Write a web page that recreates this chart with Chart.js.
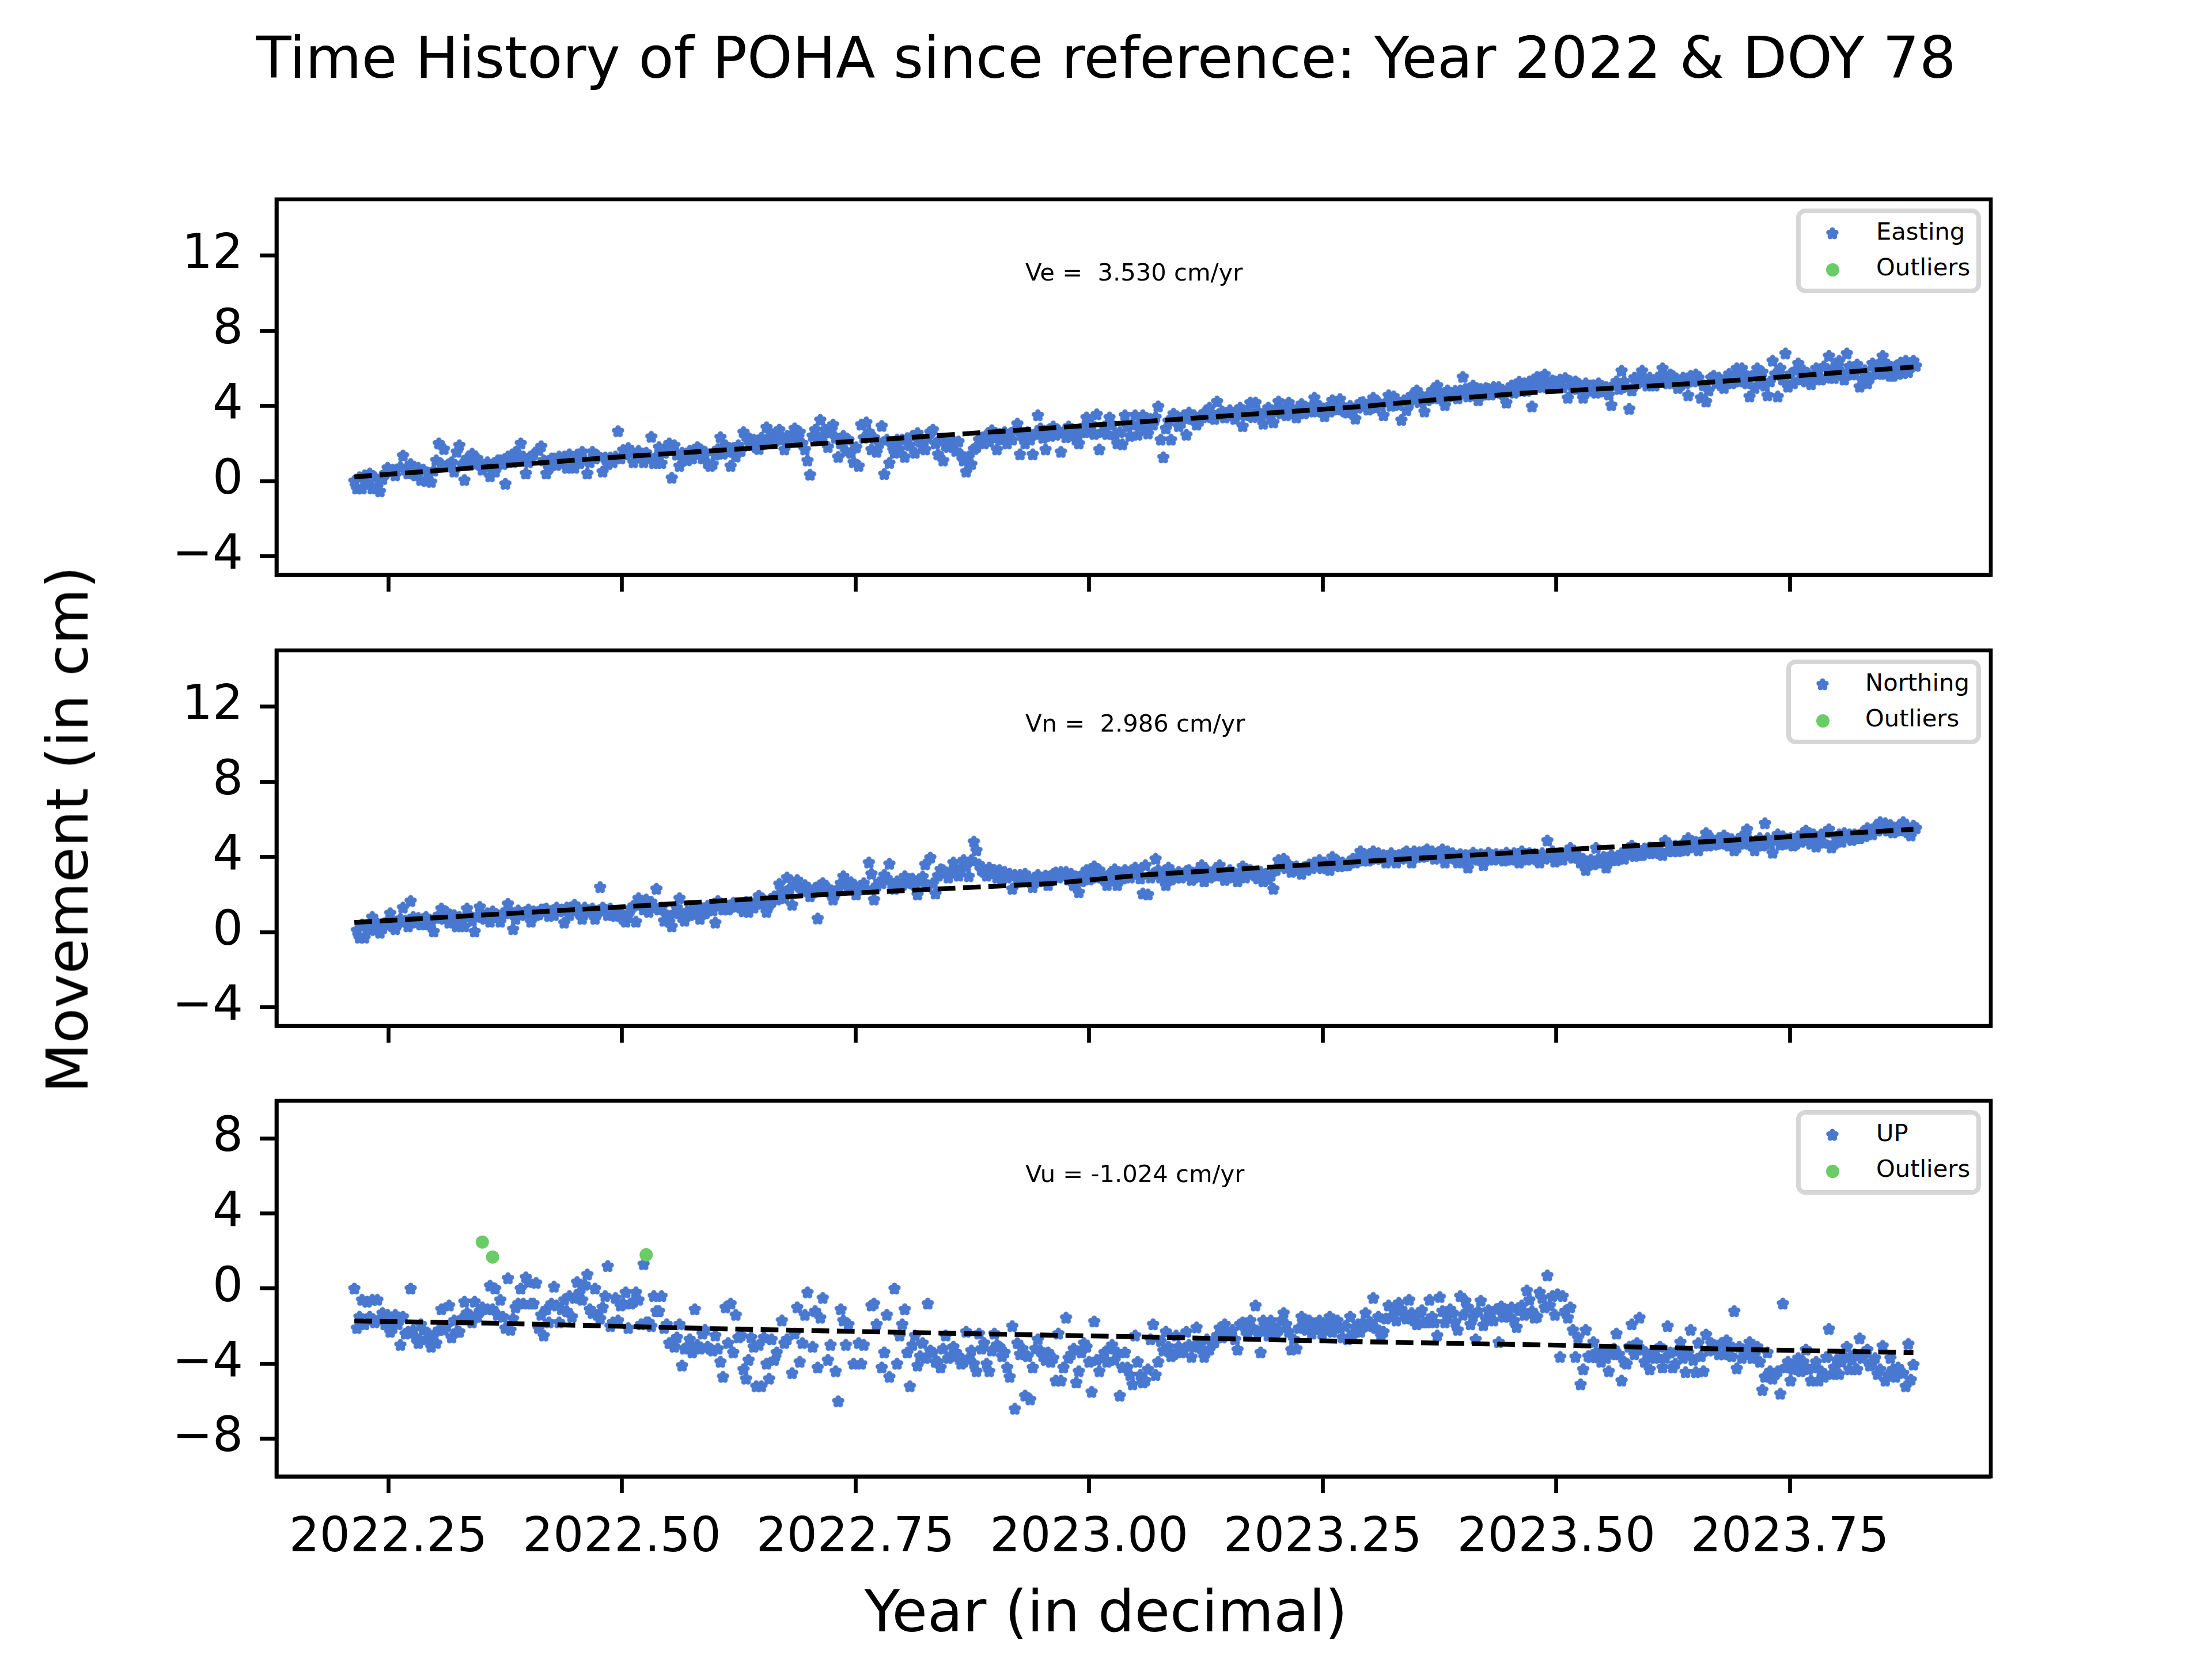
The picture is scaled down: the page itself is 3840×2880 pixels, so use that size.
<!DOCTYPE html>
<html>
<head>
<meta charset="utf-8">
<title>POHA time history</title>
<script src="https://cdn.jsdelivr.net/npm/chart.js@4"></script>
<style>
  html, body { margin: 0; padding: 0; background: #fff; }
  #page { position: relative; width: 3840px; height: 2880px; overflow: hidden; background: #fff; }
  #page canvas { position: absolute; left: 0; }
  .txt { position: absolute; font-family: "DejaVu Sans"; line-height: 1; white-space: pre; color: #000; }
  .legendBox { position: absolute; box-sizing: border-box; background: #fff; border: 8px solid #d6d6d6; border-radius: 16px; }
</style>
</head>
<body>
<div id="page"></div>
<script>
// decimal year of day 0 (2022, DOY 78)
const startYear = 2022.2137;

const xTickValues = [2022.25, 2022.5, 2022.75, 2023, 2023.25, 2023.5, 2023.75];
const yTicksHoriz = [-4, 0, 4, 8, 12];
const yTicksUp = [-8, -4, 0, 4, 8];

// Easting (day since reference / cm)
const eastDays = [
  0,1,2,3,4,5,6,7,8,9, 10,11,12,13,14,15,16,18,19,20, 21,22,23,24,25,26,27,28,29,30,
  31,32,33,34,35,36,37,38,39,40, 41,42,43,44,45,46,47,48,49,50, 51,52,53,54,55,56,57,58,59,60,
  61,62,63,64,65,66,67,68,69,70, 72,73,74,75,76,77,78,79,80,81, 82,83,84,85,86,87,88,89,90,91,
  92,93,94,95,97,98,99,100,101,102, 103,104,105,106,107,108,109,110,111,112, 113,114,115,116,117,118,119,120,121,122,
  123,124,125,126,127,128,129,130,131,132, 133,134,135,136,137,138,139,140,141,142, 143,144,145,146,147,148,149,150,151,152,
  153,154,155,156,157,158,159,160,161,162, 163,164,165,166,167,168,169,170,171,172, 173,174,175,176,177,178,179,180,181,182,
  183,184,185,186,187,188,189,190,191,192, 193,194,195,196,197,198,199,200,201,202, 203,204,205,206,207,208,209,210,211,212,
  213,214,215,216,217,218,219,220,221,222, 223,224,225,226,227,228,229,230,231,232, 233,234,235,236,237,238,239,240,241,242,
  243,244,245,246,247,248,249,250,251,252, 253,254,255,256,257,258,259,260,261,262, 263,264,265,266,267,268,269,270,271,272,
  273,274,275,276,277,278,279,280,281,282, 283,284,285,286,287,288,289,290,291,292, 293,294,295,296,297,298,299,300,301,302,
  303,304,305,306,307,308,309,310,314,315, 316,317,319,320,322,325,326,329,332,334, 337,340,342,346,347,350,352,355,359,361,
  365,368,370,375,379,382,385,388,391,393, 398,402,404,406,409,411,413,415,418,421, 423,426,427,433,432,437,439,442,448,450,
  452,455,460,462,465,468,473,474,478,480, 483,488,491,495,498,499,503,505,508,511, 514,517,521,524,526,528,529,531,535,540,
  542,545,547,548,551,552,554,556,557,559, 560,564,569,571,576,578,580,583,585,588, 591,593,597,600,605,606,609,610,
  311,312,313,318,321,323,324,327,328,330, 331,333,335,336,338,339,341,343,344,345, 348,349,351,353,354,356,357,358,360,362,
  363,364,366,367,369,371,372,373,374,376, 377,378,380,381,383,384,386,387,389,390, 392,394,395,396,397,399,400,401,403,405,
  407,408,410,412,414,416,417,419,420,422, 424,425,428,429,430,431,434,435,436,438, 440,441,443,444,445,446,447,449,451,453,
  454,456,457,458,459,461,463,464,466,467, 469,470,471,472,475,476,477,479,481,482, 484,485,486,487,489,490,492,493,494,496,
  497,500,501,502,504,506,507,509,510,512, 513,515,516,518,519,520,522,523,525,527, 530,532,533,534,536,537,538,539,541,543,
  544,546,549,550,553,555,558,561,562,563, 565,566,567,568,570,572,573,574,575,577, 579,581,582,584,586,587,589,590,592,594,
  595,596,598,599,601,602,603,604,607,608
];
const eastValues = [
  0,-.4,.2,-.4,.3,-.1,.4,-.4,.2,-.3, -.55,.1,.4,.7,.5,.6,.3,.75,1.35,.6, .4,.9,.5,.3,.7,.05,.6,0,.35,-.05,
  .55,1.1,2,.9,1.7,.8,.9,1,.5,1.55, 1.9,.9,.05,1.2,1,1.45,.9,1.2,.95,.6, .8,1,.25,.8,.5,1.1,1.1,.9,-.15,1.3,
  1.2,1,1.55,1.2,2,1.3,.4,1,1.3,1.42, 1.65,1.85,1.1,.4,.7,1.2,1.2,.85,1.3,1.1, 1.3,.7,1.42,1,.7,1.4,.95,1.55,1.1,.4,
  1,1.55,1.2,1.35,.5,1.25,.9,1.25,1,1.3, 2.65,1.2,1.65,1.4,1.75,1.5,1,1.35,1.6,1.3, 1,1.5,1.25,2.35,.95,1.3,1.8,.95,1.5,1.8,
  2,.17,1.9,1.4,.8,1.5,1.3,1.1,1.6,1.2, 1.5,1.8,1.7,1.2,1.55,.95,.8,.9,1.4,1.7, 2.33,1.45,1.9,1.55,.8,1.75,1.3,1.9,1.6,2.6,
  2.4,2.2,1.9,2.2,1.8,1.7,2.3,2,2.86,2.3, 2.5,2.1,2.6,2.73,2.2,1.68,2.4,2.1,2.5,2.8, 2.2,2.6,2,1.68,1.09,.33,2.4,2.73,2.3,3.25,
  2.4,2.73,1.81,2.6,3,2.3,1.28,2,2.4,1.6, 2.2,1.5,1,1.8,.8,3,2.3,3.12,2.6,1.68, 2.3,1.55,2,2.93,.37,2.2,.96,1.9,1.5,2.2,
  1.7,2.2,1.28,2.28,1.9,2.4,1.5,2.55,2.1,1.9, 1.68,2.3,2.6,2.73,2,1.42,2.2,1.09,1.9,1.81, 2.2,2,1.6,2.1,1.4,1.09,.5,1.3,.9,1.7,
  1.81,2.2,2.3,2,2.46,2.1,2.7,2.3,1.68,2.5, 2.2,2.6,2,2.5,2.2,2.7,3.05,1.42,2.4,2, 2.6,2.2,1.42,2.5,3.5,2.8,2.3,1.68,2.7,2.4,
  2.9,2.46,2.7,1.55,2.6,2.33,2.9,2.4,2.7,2.2, 2,2.6,2.9,3.38,2.6,3,2.5,3.55,1.68,2.6, 2.9,2.5,3.38,3,2.46,2,2.6,1.95,3.5,2.9,
  2.4,3,3.5,2.46,3,3.5,2.73,2.53,3.97,2.2, 1.26,2.8,2.2,3.58,2.92,2.46,3.64,3,3.64,3.9, 4.23,3.38,3.77,3.9,2.92,4.17,4.17,3.05,3.12,4.23,
  4.17,3.38,4.1,4.43,3.45,4.3,4.36,3.64,3.32,4.17, 4.43,3.5,4.56,4.5,3.25,3.77,4.56,4.82,3.7,4.82, 5.08,4.04,4.82,5.54,4.82,5.08,4.3,4.95,4.82,4.17,
  5.08,5.28,3.97,5.54,5.67,5.35,5.48,4.43,5.2,4.43, 5.08,4.76,4.04,5.87,3.84,4.82,5.87,5.08,5.08,6, 5.67,4.95,4.56,5.67,4.43,4.23,4.82,5.6,4.95,6,
  6,4.5,4.95,6,5.08,4.56,6.4,4.5,6,6.79, 5.02,6.26,5.15,6,6.66,5.48,6.4,6.79,5.67,5.02, 5.2,6.26,6.66,5.6,5.74,6.4,6.4,6.13,
  3.3,3,3.4,3.2,3.4,3.1,3.5,3.3,3.5,3.2, 3.5,3.4,3.6,3.3,3.5,3.7,3.5,3.6,3.3,3.7, 3.5,3.7,3.4,3.7,3.5,3.6,3.9,3.5,3.7,3.6,
  3.8,3.5,3.9,3.6,3.8,3.6,3.9,3.7,4,3.7, 4,3.7,3.9,3.7,4,3.8,4,3.7,4,3.7, 3.9,4.2,4,3.8,4.2,3.9,4.2,4,4.2,4,
  4.3,4.05,4.3,4.1,4.4,4.2,4.5,4.3,4.6,4.4, 4.6,4.4,4.7,4.5,4.8,4.4,4.9,4.5,4.8,4.6, 4.9,4.6,4.9,4.6,5,4.7,5,4.6,4.9,4.7,
  5.1,4.8,5.2,4.8,5.3,5,5.4,5,5.3,5, 5.3,5.1,5.4,5,5.3,4.9,5.3,4.9,5.2,4.8, 5.1,4.7,5.2,4.8,5,4.6,5.1,5.3,4.9,5.3,
  5,5.5,5.2,5.6,5.3,5.5,5.2,5.5,5.3,5.6, 5.2,5.6,5.3,5.1,5.5,5.2,5.6,5.3,5.5,5.1, 5.5,5.2,5.5,5.1,5.4,5.7,5.2,5.6,5.3,5.7,
  5.2,5.6,5.4,5.8,5.3,5.7,5.4,5.7,5.2,5.9, 5.4,5.9,5.3,5.7,5.5,5.9,5.4,6.1,5.5,5.9, 6.2,5.8,5.4,6.1,5.7,6.2,5.4,5.9,5.5,6.1,
  5.7,6.3,5.7,6.2,5.6,6.1,5.7,6.3,5.8,6.2
];

// Northing
const northDays = [
  1,2,4,5,7,8,10,12,14,15, 16,19,21,22,25,26,28,29,31,34, 36,37,40,41,43,44,46,47,49,51,
  53,55,57,59,60,62,63,66,69,71, 74,76,78,82,84,86,89,91,94,96, 98,100,103,105,106,110,111,113,114,115,
  118,119,121,123,124,127,129,131,132,135, 137,141,142,144,146,149,152,154,156,158, 161,163,165,166,168,169,171,173,176,178,
  181,183,186,187,191,194,196,198,201,202, 203,205,207,209,211,213,215,218,220,223, 225,227,229,231,234,238,240,241,242,243,
  245,248,252,255,257,258,260,265,267,271, 274,278,281,283,286,289,294,297,298,301, 305,308,309,310,311,313,317,318,321,326,
  327,331,332,338,340,345,347,351,355,359, 361,363,366,370,377,381,382,388,393,398, 403,407,411,413,419,425,426,431,435,437,
  441,443,450,455,456,463,466,469,475,478, 481,485,489,493,499,502,507,511,512,518, 521,525,528,532,535,539,544,547,551,554,
  556,559,562,567,571,576,577,582,588,591, 596,598,602,605,608,609,610,
  3,6,9,11,13,17,18,20,23,24, 27,30,32,33,35,38,39,42,45,48, 50,52,54,56,58,61,64,65,67,68,
  70,72,73,75,77,79,80,81,83,85, 87,88,90,92,93,95,97,99,101,102, 104,107,108,109,112,116,117,120,122,125,
  126,128,130,133,134,136,138,139,140,143, 145,147,148,150,151,153,155,157,159,160, 162,164,167,170,172,174,175,177,179,180,
  182,184,185,188,189,190,192,193,195,197, 199,200,204,206,208,210,212,214,216,217, 219,221,222,224,226,228,230,232,233,235,
  236,237,239,244,246,247,249,250,251,253, 254,256,259,261,262,263,264,266,268,269, 270,272,273,275,276,277,279,280,282,284,
  285,287,288,290,291,292,293,295,296,299, 300,302,303,304,306,307,312,314,315,316, 319,320,322,323,324,325,328,329,330,333,
  334,335,336,337,339,341,342,343,344,346, 348,349,350,352,353,354,356,357,358,360, 362,364,365,367,368,369,371,372,373,374,
  375,376,378,379,380,383,384,385,386,387, 389,390,391,392,394,395,396,397,399,400, 401,402,404,405,406,408,409,410,412,414,
  415,416,417,418,420,421,422,423,424,427, 428,429,430,432,433,434,436,438,439,440, 442,444,445,446,447,448,449,451,452,453,
  454,457,458,459,460,461,462,464,465,467, 468,470,471,472,473,474,476,477,479,480, 482,483,484,486,487,488,490,491,492,494,
  495,496,497,498,500,501,503,504,505,506, 508,509,510,513,514,515,516,517,519,520, 522,523,524,526,527,529,530,531,533,534,
  536,537,538,540,541,542,543,545,546,548, 549,550,552,553,555,557,558,560,561,563, 564,565,566,568,569,570,572,573,574,575,
  578,579,580,581,583,584,585,586,587,589, 590,592,593,594,595,597,599,600,601,603, 604,606,607
];
const northValues = [
  .09,-.3,-.3,.15,.8,.1,-.04,.4,1,.3, .15,1.3,.3,1.65,.75,.4,.8,.4,.03,1.25, 1.07,.5,.3,.8,.3,1.25,.6,.03,1.34,.7,
  .55,.8,.55,1,1.5,.15,.7,1,.55,.9, 1.2,.85,.9,.5,.9,1.45,.7,1.1,.7,2.39, 1.2,1.25,1.07,.7,.55,.55,1.8,1.2,1.73,1.07,
  2.3,1.2,.6,.55,.3,1.8,.6,.9,1.07,.7, 1,.5,1.65,1.2,1.2,1.34,1.1,1.07,1.3,1.93, 1.07,1.6,1.73,2.56,1.8,2.9,1.45,2.77,2.5,1.9,
  .72,2.6,2.1,1.73,2.97,2.65,2,2.39,3.7,3.1, 1.73,2.65,3.04,3.63,2.3,2.39,2.97,2.84,2,3.6, 3.96,2.05,3.34,3.17,3.7,3.83,2.97,3.83,4.81,4.35,
  3.3,3.43,3.3,2.9,2.3,3.04,3.04,2.39,3.04,2.5, 3.17,3.2,2.5,2.12,3.3,3.5,2.5,3.34,2.5,3.3, 3.43,2.05,3.56,2,2.9,3.9,2.5,3.43,2.9,3.3,
  2.77,3.56,2.7,3.56,2.77,2.7,3.5,3.2,2.7,2.3, 3.83,3.9,3.2,3.1,3.83,3.3,4,3.56,4.3,4.3, 3.7,3.7,4.3,3.7,4.4,4.4,3.7,3.7,3.43,4.22,
  3.56,4.22,4.22,3.7,4.3,3.7,4.87,3.75,4.48,3.96, 3.3,4.48,3.43,3.83,4.6,4.1,4.48,4.1,4.87,4.35, 5,4.35,5.27,4.74,5.14,4.35,5.47,4.35,5.79,4.22,
  5.2,4.87,4.6,5.4,4.55,5.47,4.5,5.27,5,5.53, 5.85,5.79,5.4,5.85,5.14,5.66,5.53,
  .4,.3,.45,.2,.6,.5,.7,.6,.8,.5, .7,.5,.75,.9,.7,.8,.9,.6,.9,.8, .95,1,1.1,.9,1,1.1,1.15,.9,1.05,1.2,
  1.1,.95,1.2,1.25,1,1.3,1.1,1.2,1.3,1.15, 1.2,1,1.3,1.1,1.25,1.05,1.3,.9,1.1,.85, 1,.9,1.25,1.4,1.5,1.6,1.35,1.3,.9,1,
  1.3,.8,1.1,1.3,1,1.25,1.4,1.3,1.15,1.5, 1.45,1.35,1.55,1.5,1.3,1.6,1.45,1.65,1.5,1.7, 1.45,1.9,2.1,2.3,2.5,2.4,2.2,2.3,2.1,2.35,
  2.5,2.2,2.35,2.1,2.3,2.6,2.75,2.4,2.5,2.35, 2.6,2.3,2.45,2.6,2.85,2.55,2.7,2.5,2.6,2.8, 2.5,2.7,2.95,2.5,2.6,3,3.3,2.9,3.2,3.4,
  3,3.3,3.5,3.6,3.2,3,3.1,3.3,2.9,2.8, 3.2,3.1,2.8,2.7,3.1,2.9,2.8,2.75,2.9,2.7, 3,2.8,3.1,2.9,3.2,3,2.8,3.1,2.95,2.7,
  3.1,2.8,3.2,2.9,3.3,3,2.8,3.1,2.8,3, 2.85,3.2,2.9,3.1,3.2,2.85,3.1,3.3,2.9,3.2, 2.8,3.1,3.2,2.9,3.1,3.25,2.9,3.2,3,3.3,
  2.9,3.1,3.3,3,3.2,3,3.3,2.9,3.1,3.2, 2.9,3.1,3.3,3,2.85,3.2,3.1,2.8,3,3.3, 3.5,3.4,3.6,3.3,3.5,3.3,3.45,3.3,3.6,3.4,
  3.7,3.5,3.4,3.7,3.5,3.6,3.8,3.5,3.7,3.55, 3.75,3.9,3.7,4,3.8,4.1,3.8,4,3.9,4.2, 3.9,4.1,3.9,4.2,3.85,4.1,3.9,4.2,4,4.3,
  4,4.25,4,4.3,4.05,4.3,3.9,4.2,4.05,4.3, 3.95,4.2,3.9,4.15,3.8,4.1,3.9,4.1,3.85,4.15, 3.95,4.1,3.85,4.15,3.9,4.1,3.8,4.1,3.85,4.2,
  3.9,4.1,3.85,4.2,3.9,4.15,3.85,4.2,3.9,4.1, 4.3,4,4.2,3.85,4.1,4.3,3.95,4.15,3.7,3.9, 3.6,3.85,3.6,3.9,3.7,4,3.8,4.1,3.85,4,
  4.2,3.9,4.15,4.3,4.05,4.3,4.1,4.45,4.2,4.5, 4.2,4.45,4.3,4.3,4.6,4.3,4.6,4.3,4.7,4.35, 4.8,4.5,4.8,4.6,4.9,4.6,5,4.65,5,4.7,
  4.9,4.6,4.95,4.5,4.9,5.1,4.7,4.9,4.6,4.8, 5,4.6,5,4.7,4.9,4.65,5.1,4.7,5,4.7, 5.1,4.8,5.2,4.9,4.7,5.2,4.8,5.2,4.75,5.3,
  4.7,5,5.2,4.8,5,5.2,4.9,5.2,5,5.3, 5.1,5.4,5.2,5.6,5.4,5.6,5.4,5.7,5.3,5.6, 5.4,5.6,5.3
];

// Up
const upDays = [
  0,1,3,4,5,6,7,8,9,11, 12,13,15,17,18,19,21,22,23,25, 26,28,30,32,33,34,35,37,38,39,
  40,41,43,45,46,47,49,52,53,55, 57,58,59,60,61,63,65,66,67,68, 69,70,71,72,73,74,75,76,77,78,
  80,81,82,84,85,87,88,89,90,91, 92,94,95,97,99,100,102,103,104,106, 107,108,110,111,113,114,115,117,118,120,
  121,122,123,125,126,127,128,129,131,133, 134,137,139,141,142,143,144,145,147,148, 149,151,152,153,154,155,156,157,159,160,
  161,162,163,164,165,167,168,169,171,172, 173,174,175,176,177,179,180,181,182,183, 185,186,188,189,190,191,192,193,195,197,
  198,199,202,203,204,206,207,208,209,211, 212,213,214,215,217,218,219,220,221,222, 224,225,227,229,231,233,235,238,239,241,
  242,243,244,246,247,248,250,251,254,255, 256,257,258,259,261,262,264,265,267,268, 270,272,274,275,276,277,278,279,281,282,
  283,285,287,288,289,291,292,296,298,299, 301,302,304,305,306,308,310,311,312,313, 314,317,319,321,323,325,327,329,332,334,
  336,340,342,345,347,350,352,354,355,358, 360,363,366,368,370,372,376,379,381,384, 388,389,391,395,396,398,400,402,404,406,
  408,410,412,414,417,419,420,423,424,426, 428,431,432,434,436,438,440,441,443,447, 448,451,454,455,458,459,461,463,465,466,
  468,469,470,471,472,474,476,477,478,479, 480,481,483,484,486,490,491,493,495,497, 499,502,503,505,506,509,511,513,515,518,
  520,522,524,527,528,531,533,536,539,540, 542,545,547,549,550,551,552,555,557,558, 560,561,563,565,567,569,570,572,575,576,
  577,579,580,583,584,587,588,591,593,595, 597,598,601,603,605,606,607,608,609,
  2,10,14,16,20,24,27,29,31,36, 42,44,48,50,54,56,62,64,79,83, 86,93,96,98,101,105,109,112,116,119,
  124,130,132,135,136,138,140,146,150,158, 216,223,226,228,230,232,234,236,237,240, 245,249,252,253,260,263,266,269,271,273,
  280,284,286,290,293,294,295,297,300,303, 307,309,315,316,318,320,322,324,326,328, 330,331,333,335,337,338,339,341,343,344,
  346,348,349,351,353,356,357,359,361,362, 364,365,367,369,371,373,374,375,377,378, 380,382,383,385,386,387,390,392,393,394,
  397,399,401,403,405,407,409,411,413,415, 416,418,421,422,425,427,429,430,433,435, 437,439,442,444,445,446,449,450,452,453,
  456,457,460,462,464,467,473,475, 482,485,487,488,489,492,494,496,498,500, 501,504,507,508,510,512,514,516,517,519,
  521,523,525,526,529,530,532,534,535,537, 538,541,543,544,546,548,553,554,556,559, 562,564,566,568,571,573,574,578,581,582,
  585,586,589,590,592,594,596,599,600,602
];
const upValues = [
  0,-2.1,-.6,-1.9,-.7,-1.5,-.6,-1.8,-.6,-1.3, -1.9,-1.4,-2.1,-1.9,-3,-1.5,-2.3,0,-2.2,-2.9, -1.9,-2.7,-3.1,-2.9,-2.2,-1.1,-2.2,-.9,-2.6,-1.7,
  -2.3,-2.3,-.7,-1.4,-1.8,-.7,-1.2,-1.1,.15,0, -.6,-1.5,-2.1,.55,-2.2,-1,0,-.8,.6,.35, -.8,-.8,.3,-2.1,-1.4,-2.5,-1.1,-1.8,-.8,.1,
  -1.8,-1.1,-.6,-.4,-1.5,.35,-.2,-.6,.2,.75, -1.1,0,-1.4,-1,1.2,-2,-.5,-1.7,-.9,-.2, -2.1,-.8,-.2,-.6,1.3,-1.8,-1.8,-.4,-1.2,-.4,
  -2.1,-1.9,-2.9,-3.1,-2.6,-1.9,-4.1,-3.2,-2.7,-1.1, -3,-2.2,-3.2,-2.5,-3.2,-3.9,-4.7,-1,-.8,-3.4, -1.4,-2.5,-4.3,-4.8,-3.8,-2.6,-3.1,-5.2,-5.2,-2.6,
  -4,-4.8,-2.7,-3.8,-3.4,-1.7,-2.9,-2.7,-4.5,-2.4, -1,-3.9,-2.9,-1.4,-.2,-3.1,-1.2,-4.2,-1.55,-.5, -3.8,-3,-4.4,-6,-1.1,-1.7,-3,-1.9,-4,-2.9,
  -4,-3,-.9,-.8,-1.9,-4.2,-3.4,-1.4,-4.7,0, -4,-2.5,-1.9,-1.1,-5.2,-3,-2.5,-4.1,-3.6,-2.9, -.8,-3.3,-3.9,-4.2,-2.5,-3.6,-3.4,-3.9,-2.3,-3.3,
  -4,-4.4,-2.4,-2.9,-4,-4.4,-2.4,-3,-3.4,-4.2, -4.7,-2,-6.4,-2.9,-3.2,-5.7,-5.9,-4.2,-2.7,-3.3, -3.8,-3.9,-4.9,-2.4,-4.9,-4.2,-1.55,-3.7,-3.2,-5,
  -4.4,-2.9,-3.9,-5.5,-1.75,-4.4,-3.7,-3,-3.4,-5.7, -3.4,-4.2,-5.1,-2.5,-3.9,-5,-4.3,-2.7,-1.9,-4.6, -3.9,-2.3,-3.6,-2.5,-3.4,-2.3,-3.64,-2.07,-3.64,-3.25,
  -2.86,-1.9,-2.4,-3.25,-1.8,-1.7,-.9,-3.4,-1.7,-1.7, -2.33,-1.3,-3.25,-3.2,-1.5,-2.2,-1.9,-2.2,-1.5,-1.7, -2.7,-1.5,-2.07,-1.3,-2,-.5,-1.5,-2.3,-.9,-1.15,
  -.76,-1.4,-.6,-1.7,-1.15,-1.8,-.6,-2.5,-.45,-1.8, -1.1,-2.2,-.4,-.65,-1.9,-2.7,-.65,-1.95,-1.15,-2.85, -.95,-1.5,-2.05,-1.15,-.1,-.6,-1.55,-.2,-1,.7,
  -.4,-1.4,-.3,-3.64,-.4,-1.55,-2.2,-3.64,-2.6,-5.1, -4.3,-2.2,-3.65,-2.85,-3.65,-4.4,-3.5,-2.4,-4.9,-4, -1.9,-1.55,-3.25,-3.5,-4.3,-3.65,-4.2,-2,-4.2,-2.85,
  -4.45,-2.2,-4.45,-4.4,-2.45,-3,-3.5,-2.75,-1.2,-4.25, -3.7,-2.85,-3.5,-3.9,-5.4,-4.7,-3.4,-4.55,-5.6,-.8, -3.9,-4.9,-4.05,-4.4,-3.25,-4.9,-4.2,-4.9,-3.65,-2.15,
  -4.55,-3.8,-4.55,-3.1,-4.3,-4.3,-2.65,-3.25,-3.9,-4.55, -3.05,-4.9,-4.3,-4.2,-4.5,-5.2,-2.95,-4.85,-4.05,
  -1.5,-1.6,-2.3,-1.4,-2.4,-2.6,-2.2,-2.4,-2.5,-2, -1.6,-1.3,-1.5,-1,-1.1,-1.4,-1.6,-.8,-.9,-1.2, -.5,-1.3,-1.6,-.4,-1.8,-.8,-.7,-1.9,-2,-1.2,
  -2.9,-3.1,-3.4,-3.2,-2.4,-3.1,-3.3,-2.9,-2.6,-3, -3.4,-3.7,-3.4,-3.9,-3.2,-3.7,-3.1,-3.6,-4,-3.7, -3.2,-3.3,-3.1,-3.6,-3.5,-3.6,-3.2,-3.6,-3.4,-3.7,
  -3.5,-3.4,-3.1,-3.8,-3.4,-3.9,-3.2,-3.8,-4.2,-4.6, -4.6,-4.9,-2.8,-3.3,-3.1,-3.5,-3.1,-3.3,-3,-3.1, -2.9,-3.2,-2.7,-2.9,-2.5,-2.1,-2.6,-2.3,-2.2,-2.7,
  -1.9,-2.2,-2.4,-2.1,-2.3,-2.1,-2.5,-2,-2.2,-1.7, -1.9,-2.3,-2.7,-2.1,-1.9,-1.7,-2.4,-2.1,-1.7,-2.4, -1.9,-2.3,-1.8,-2.1,-2.6,-2,-2.4,-1.9,-2.3,-1.8,
  -1.8,-2.1,-2.5,-1.6,-1.5,-1.7,-1.1,-1.6,-1.3,-1.9, -1.3,-1.8,-1.5,-1.8,-1.2,-1.5,-1.3,-1.8,-1.4,-1, -1.5,-1.2,-1.6,-1.3,-1.7,-1.1,-1.5,-1.3,-1,-1.7,
  -.9,-1.4,-1.2,-1.5,-.5,-.9,-1.2,-1, -3.6,-3.4,-3.9,-3.3,-3.7,-3.2,-3.5,-3.9,-3.1,-3.5, -2.9,-3.9,-3.4,-3.7,-3.1,-3.7,-3.4,-4,-3.3,-3.7,
  -3.4,-3.8,-2.9,-3.6,-3.3,-2.9,-3.2,-2.9,-3.5,-3, -3.6,-3.1,-3.5,-3.3,-3.7,-3.1,-4.4,-4.8,-4.4,-4.2, -4.3,-3.7,-3.9,-4.3,-3.9,-4.4,-4.7,-4.2,-3.9,-3.6,
  -3.8,-3.5,-3.7,-3.4,-4.1,-3.7,-4.3,-4.6,-3.7,-4.7
];

const upOutlierDays = [50, 54, 114];
const upOutlierValues = [2.48, 1.68, 1.8];

// fitted trend lines
const eastTrendDays = [0, 100, 186, 304, 394, 420, 458, 523, 609];
const eastTrendValues = [.22, 1.25, 2.03, 3.12, 3.97, 4.3, 4.69, 5.19, 6.07];
const northTrendDays = [0, 100, 186, 272, 308, 394, 480, 523, 609];
const northTrendValues = [.51, 1.3, 2.02, 2.58, 3.04, 3.76, 4.44, 4.77, 5.47];
const upTrendDays = [0, 57, 143, 229, 304, 394, 469, 545, 609];
const upTrendValues = [-1.72, -1.85, -2.14, -2.37, -2.56, -2.83, -3.01, -3.25, -3.41];

const BLUE = '#4878d0';
const GREEN = '#6acc64';
const FONT = '"DejaVu Sans"';
const PANEL_H = 652;
const page = document.getElementById('page');

// matplotlib-ish filled star with round joins
function makeStar() {
    const c = document.createElement('canvas');
    c.width = c.height = 28;
    const g = c.getContext('2d');
    g.translate(14, 14.5);
    g.beginPath();
    for (let i = 0; i < 10; i++) {
        const r = i % 2 ? 2.5 : 6.5;
        const a = -Math.PI / 2 + i * Math.PI / 5;
        g[i ? 'lineTo' : 'moveTo'](r * Math.cos(a), r * Math.sin(a));
    }
    g.closePath();
    g.fillStyle = BLUE;
    g.strokeStyle = BLUE;
    g.lineWidth = 9;
    g.lineJoin = 'round';
    g.fill();
    g.stroke();
    return c;
}
const starSprite = makeStar();

function addText(text, x, baseline, size, center) {
    const d = document.createElement('div');
    d.className = 'txt';
    d.textContent = text;
    d.style.fontSize = size + 'px';
    d.style.left = x + 'px';
    d.style.top = (baseline - 0.846 * size) + 'px';
    if (center) d.style.transform = 'translateX(-50%)';
    page.appendChild(d);
}

function addLegend(panelTop, label, boxLeft, markerX, textX) {
    const box = document.createElement('div');
    box.className = 'legendBox';
    box.style.left = boxLeft + 'px';
    box.style.top = (panelTop + 16) + 'px';
    box.style.width = (3439 - boxLeft) + 'px';
    box.style.height = '147px';
    page.appendChild(box);

    const star = new Image();
    star.src = starSprite.toDataURL();
    star.style.cssText = 'position:absolute;left:' + (markerX - 14) + 'px;top:' + (panelTop + 59 - 14.5) + 'px';
    page.appendChild(star);

    const dot = document.createElement('div');
    dot.style.cssText = 'position:absolute;width:23px;height:23px;border-radius:50%;background:' + GREEN +
        ';left:' + (markerX - 11.5) + 'px;top:' + (panelTop + 122 - 11.5) + 'px';
    page.appendChild(dot);

    addText(label, textX, panelTop + 70, 41.67);
    addText('Outliers', textX, panelTop + 132, 41.67);
}

const toPoints = (days, values) => days.map((d, i) => ({ x: startYear + d / 365, y: values[i] }));

// draws the top and right spines too
const framePlugin = {
    id: 'frame',
    afterDraw(chart) {
        const a = chart.chartArea, g = chart.ctx;
        g.save();
        g.strokeStyle = '#000';
        g.lineWidth = 6.67;
        g.strokeRect(a.left, a.top, a.right - a.left, a.bottom - a.top);
        g.restore();
    }
};

function makePanel(cfg) {
    const padTop = 60;
    const axisH = cfg.showX ? 170 : 60;
    const canvas = document.createElement('canvas');
    canvas.width = 3840;
    canvas.height = padTop + PANEL_H + axisH;
    page.appendChild(canvas);

    const chart = new Chart(canvas.getContext('2d'), {
        type: 'scatter',
        data: {
            datasets: [
                { label: cfg.name, data: toPoints(cfg.days, cfg.values), pointStyle: starSprite, order: 3 },
                { label: 'Outliers', data: toPoints(cfg.outDays, cfg.outValues), pointStyle: 'circle', pointRadius: 11.5,
                  backgroundColor: GREEN, borderWidth: 0, order: 2 },
                { label: 'Trend', data: toPoints(cfg.trendDays, cfg.trendValues), showLine: true, pointRadius: 0,
                  borderColor: '#000', borderWidth: 8.33, borderDash: [30.8, 13.3], fill: false, tension: 0, order: 1 }
            ]
        },
        options: {
            responsive: false,
            maintainAspectRatio: false,
            animation: false,
            devicePixelRatio: 1,
            layout: { padding: { left: 0, right: 384, top: padTop, bottom: 0 } },
            plugins: { legend: { display: false }, title: { display: false }, tooltip: { enabled: false } },
            scales: {
                x: {
                    type: 'linear', min: 2022.1304, max: 2023.965,
                    afterFit: s => { s.height = axisH; },
                    afterBuildTicks: s => { s.ticks = xTickValues.map(v => ({ value: v })); },
                    border: { display: true, color: '#000', width: 6.67 },
                    grid: { display: true, drawOnChartArea: false, drawTicks: true, tickLength: 29, tickWidth: 6.67, tickColor: '#000' },
                    ticks: {
                        display: cfg.showX, autoSkip: false, maxRotation: 0, color: '#000', padding: 29,
                        font: { family: FONT, size: 83.33 },
                        callback: v => v.toFixed(2)
                    }
                },
                y: {
                    type: 'linear', min: cfg.yMin, max: cfg.yMax,
                    afterFit: s => { s.width = 480; },
                    afterBuildTicks: s => { s.ticks = cfg.yTicks.map(v => ({ value: v })); },
                    border: { display: true, color: '#000', width: 6.67 },
                    grid: { display: true, drawOnChartArea: false, drawTicks: true, tickLength: 29, tickWidth: 6.67, tickColor: '#000' },
                    ticks: {
                        color: '#000', padding: 29,
                        font: { family: FONT, size: 83.33 },
                        callback: v => (v < 0 ? '\u2212' + Math.abs(v) : String(v))
                    }
                }
            }
        },
        plugins: [framePlugin]
    });

    // the layout eats some extra room: grow the canvas until the plot area has the right height
    const h = chart.chartArea.bottom - chart.chartArea.top;
    if (Math.abs(h - PANEL_H) > 0.1) chart.resize(3840, Math.round(canvas.height + PANEL_H - h));
    canvas.style.top = (cfg.top - chart.chartArea.top) + 'px';
}

makePanel({ top: 346, name: 'Easting', days: eastDays, values: eastValues, outDays: [], outValues: [],
    trendDays: eastTrendDays, trendValues: eastTrendValues, yMin: -5, yMax: 15, yTicks: yTicksHoriz, showX: false });
makePanel({ top: 1129, name: 'Northing', days: northDays, values: northValues, outDays: [], outValues: [],
    trendDays: northTrendDays, trendValues: northTrendValues, yMin: -5, yMax: 15, yTicks: yTicksHoriz, showX: false });
makePanel({ top: 1911, name: 'UP', days: upDays, values: upValues, outDays: upOutlierDays, outValues: upOutlierValues,
    trendDays: upTrendDays, trendValues: upTrendValues, yMin: -10, yMax: 10, yTicks: yTicksUp, showX: true });

// figure level text
addText('Time History of POHA since reference: Year 2022 & DOY 78', 1920, 136, 100, true);
addText('Year (in decimal)', 1920, 2833, 100, true);
const yLabel = document.createElement('div');
yLabel.className = 'txt';
yLabel.textContent = 'Movement (in cm)';
yLabel.style.cssText = 'font-size:100px;left:118px;top:1440px;transform:translate(-50%,-50%) rotate(-90deg)';
page.appendChild(yLabel);

addText('Ve =  3.530 cm/yr', 1780, 346 + 141, 41.67);
addText('Vn =  2.986 cm/yr', 1780, 1129 + 141, 41.67);
addText('Vu = -1.024 cm/yr', 1780, 1911 + 141, 41.67);

addLegend(346, 'Easting', 3118, 3181, 3257);
addLegend(1129, 'Northing', 3101, 3164, 3238);
addLegend(1911, 'UP', 3118, 3181, 3257);
</script>
</body>
</html>
